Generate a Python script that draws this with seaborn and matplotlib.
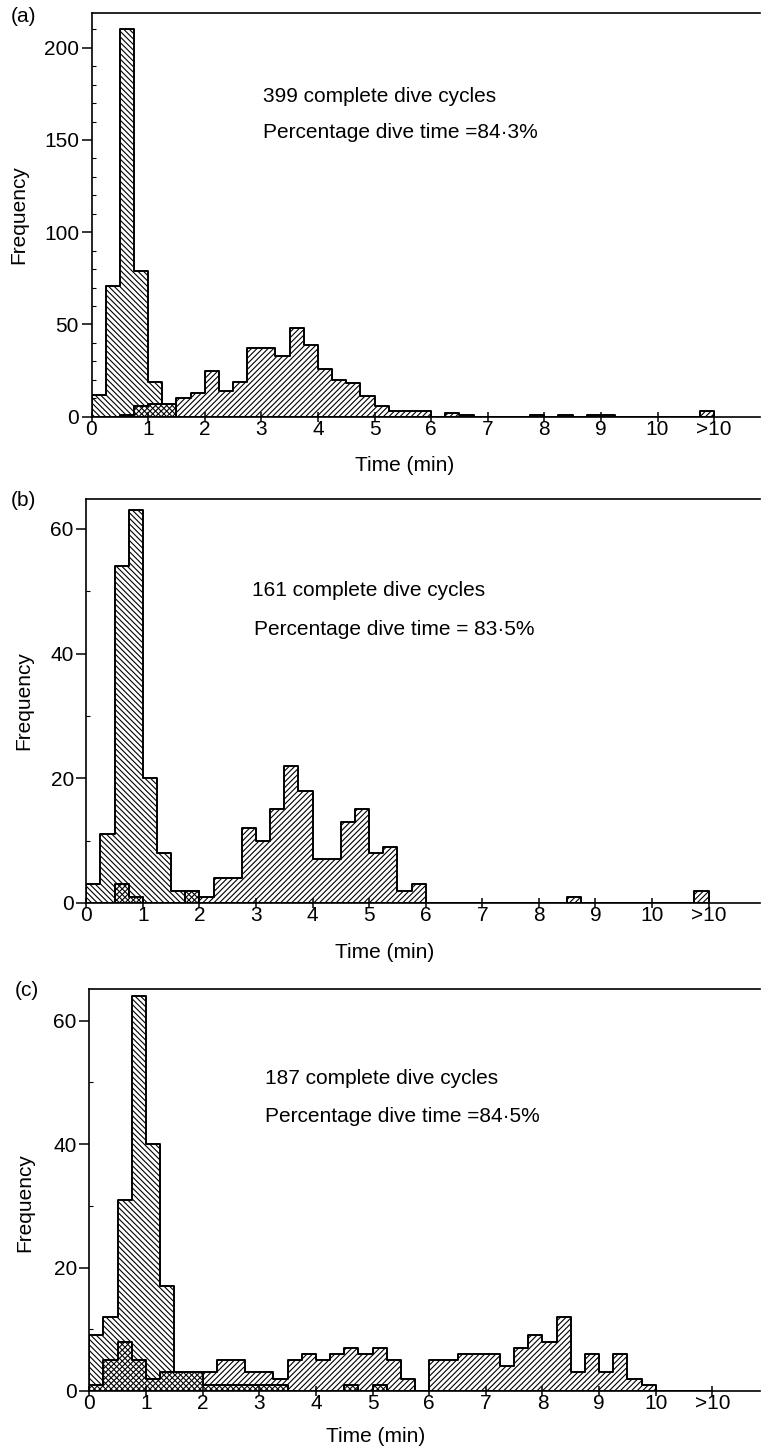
import numpy as np
import pandas as pd
import matplotlib
matplotlib.use("Agg")
import matplotlib.pyplot as plt
from matplotlib.ticker import MultipleLocator, FixedLocator
import seaborn as sns

sns.set_theme(style="ticks")
plt.rcParams["font.family"] = ["Liberation Sans", "DejaVu Sans"]
plt.rcParams["hatch.linewidth"] = 0.8
plt.rcParams["text.color"] = "black"

W, H = 762, 1453

# 0.25-min classes from 0 to 11; the last class (10.75-11) holds ">10"
BIN_W = 0.25
N_BINS = 44

x_ticks = [0, 1, 2, 3, 4, 5, 6, 7, 8, 9, 10, 11]
x_labels = ["0", "1", "2", "3", "4", "5", "6", "7", "8", "9", "10", ">10"]

# counts per class, 4 classes per minute
surface_a = [12, 71, 210, 79,  19, 7, 0, 0,  0, 0, 0, 0,  0, 0, 0, 0,
             0, 0, 0, 0,  0, 0, 0, 0,  0, 0, 0, 0,  0, 0, 0, 0,
             0, 0, 0, 0,  0, 0, 0, 0,  0, 0, 0, 0]
dive_a = [0, 0, 1, 6,  7, 7, 10, 13,  25, 14, 19, 37,  37, 33, 48, 39,
          26, 20, 18, 11,  6, 3, 3, 3,  0, 2, 1, 0,  0, 0, 0, 1,
          0, 1, 0, 1,  1, 0, 0, 0,  0, 0, 0, 3]

surface_b = [3, 11, 54, 63,  20, 8, 2, 2,  0, 0, 0, 0,  0, 0, 0, 0,
             0, 0, 0, 0,  0, 0, 0, 0,  0, 0, 0, 0,  0, 0, 0, 0,
             0, 0, 0, 0,  0, 0, 0, 0,  0, 0, 0, 0]
dive_b = [0, 0, 3, 1,  0, 0, 0, 2,  1, 4, 4, 12,  10, 15, 22, 18,
          7, 7, 13, 15,  8, 9, 2, 3,  0, 0, 0, 0,  0, 0, 0, 0,
          0, 0, 1, 0,  0, 0, 0, 0,  0, 0, 0, 2]

surface_c = [9, 12, 31, 64,  40, 17, 3, 3,  1, 1, 1, 1,  1, 1, 0, 0,
             0, 0, 1, 0,  1, 0, 0, 0,  0, 0, 0, 0,  0, 0, 0, 0,
             0, 0, 0, 0,  0, 0, 0, 0,  0, 0, 0, 0]
dive_c = [1, 5, 8, 5,  2, 3, 3, 3,  3, 5, 5, 3,  3, 2, 5, 6,
          5, 6, 7, 6,  7, 5, 2, 0,  5, 5, 6, 6,  6, 4, 7, 9,
          8, 12, 3, 6,  3, 6, 2, 1,  0, 0, 0, 0]

panel_tags = ["(a)", "(b)", "(c)"]
cycle_text = ["399 complete dive cycles", "161 complete dive cycles",
              "187 complete dive cycles"]
pct_text = ["Percentage dive time =84·3%", "Percentage dive time = 83·5%",
            "Percentage dive time =84·5%"]

centers = np.arange(N_BINS) * BIN_W + BIN_W / 2


def px(x, y):
    return x / W, 1 - y / H


def draw_hist(ax, counts, hatch):
    df = pd.DataFrame({"time": centers, "count": counts})
    n0 = len(ax.collections)
    sns.histplot(data=df, x="time", weights="count", binwidth=BIN_W,
                 binrange=(0, N_BINS * BIN_W), element="step", fill=True,
                 color="black", ax=ax)
    for coll in ax.collections[n0:]:
        coll.set_alpha(1)
        coll.set_facecolor("none")
        coll.set_edgecolor("black")
        coll.set_linewidth(1.4)
        coll.set_hatch(hatch)


fig = plt.figure(figsize=(W / 100, H / 100), dpi=100)

# pixel geometry of each panel: left, right, top, bottom, xmax, ymax, ystep
layout = [
    (91.5, 760, 12.7, 416.7, 11.81, 219, 50),
    (86.3, 760, 499, 903, 11.91, 64.8, 20),
    (89.3, 760, 989.3, 1391, 11.84, 65.1, 20),
]
series = [(surface_a, dive_a), (surface_b, dive_b), (surface_c, dive_c)]
tag_pos = [(23, 17), (23, 500), (27, 990)]
ylab_pos = [(18.5, 215), (24, 701), (25, 1203)]
xlab_pos = [(405, 466), (385, 952), (376, 1437)]
ann_pos = [((263, 97), (263, 133)), ((252, 590), (254, 630)),
           ((265, 1078), (265, 1117))]

for i in range(3):
    l, r, t, b, xmax, ymax, ystep = layout[i]
    ax = fig.add_axes([l / W, 1 - b / H, (r - l) / W, (b - t) / H])
    surf, dive = series[i]
    draw_hist(ax, surf, "\\" * 6)
    draw_hist(ax, dive, "/" * 6)

    ax.set_xlim(0, xmax)
    ax.set_ylim(0, ymax)
    ax.set_xlabel("")
    ax.set_ylabel("")
    ax.xaxis.set_major_locator(FixedLocator(x_ticks))
    ax.set_xticklabels(x_labels)
    ax.yaxis.set_major_locator(MultipleLocator(ystep))
    ax.yaxis.set_minor_locator(MultipleLocator(10))
    ax.tick_params(axis="x", which="major", direction="inout", length=7,
                   width=1.1, pad=-1, labelsize=15, colors="black")
    ax.tick_params(axis="y", which="major", direction="out", length=7,
                   width=1.1, pad=2, labelsize=15, colors="black")
    ax.tick_params(axis="y", which="minor", direction="in", length=3,
                   width=0.8, colors="black")
    for side in ["left", "top", "bottom"]:
        ax.spines[side].set_linewidth(1.2)
        ax.spines[side].set_color("black")
    ax.spines["right"].set_visible(False)

    fig.text(*px(*tag_pos[i]), panel_tags[i], fontsize=15,
             ha="center", va="center")
    fig.text(*px(*ylab_pos[i]), "Frequency", fontsize=15, rotation=90,
             ha="center", va="center")
    fig.text(*px(*xlab_pos[i]), "Time (min)", fontsize=15,
             ha="center", va="center")
    fig.text(*px(*ann_pos[i][0]), cycle_text[i], fontsize=15,
             ha="left", va="center")
    fig.text(*px(*ann_pos[i][1]), pct_text[i], fontsize=15,
             ha="left", va="center")

fig.savefig("out.png", dpi=100, facecolor="white")
